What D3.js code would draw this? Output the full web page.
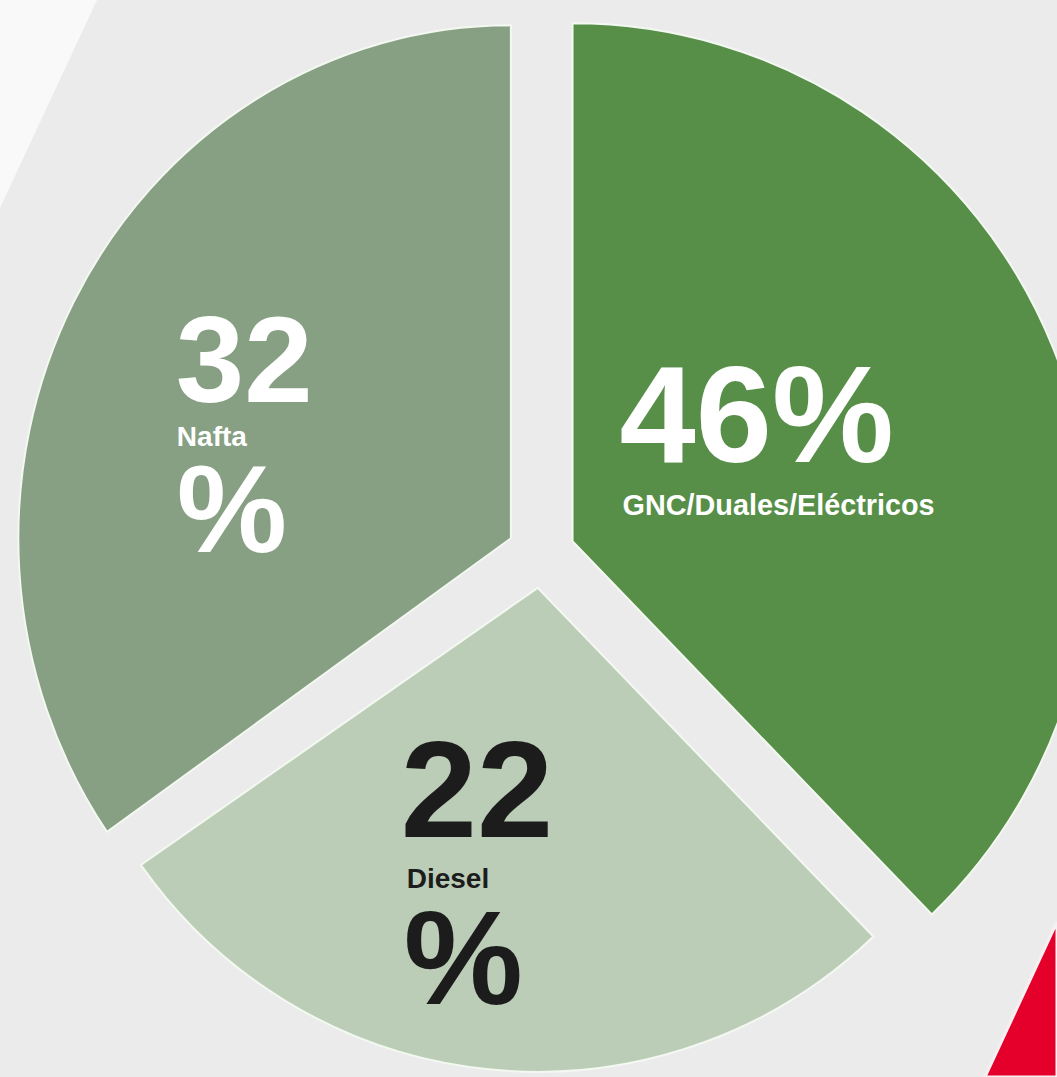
<!DOCTYPE html>
<html lang="es">
  <head>
    <meta charset="utf-8">
    <title>Parque por combustible</title>
    <script src="https://d3js.org/d3.v7.js"></script>
    <style>
      body { margin: 0; background: #ebebeb; }
      svg { display: block; }
    </style>
  </head>

  <body>
    <svg></svg>

  <script>

// data

  const categories = ["GNC/Duales/Eléctricos", "Diesel", "Nafta"];
  const percentages = [46, 22, 32];
  // the drawn slices are not proportional to the labels: angular share as seen
  const sliceShare = [37.8, 27.5, 34.7];

// look

  const w = 1057;
  const h = 1077;
  const center = {x: 541, y: 554};
  const explode = 34;
  const colors = ["#578f48", "#bbcdb7", "#87a083"];
  const textColors = ["#ffffff", "#1c1c1c", "#ffffff"];
  const outerRadius = [518, 484, 513];
  const squeezeX = [1, 1, 0.96];

  const slices = categories.map((c, i) => ({
    category: c,
    pct: percentages[i],
    share: sliceShare[i]
  }));

  const svg = d3.select("svg")
      .attr("width", w)
      .attr("height", h);

// background

  svg.append("rect")
      .attr("width", w)
      .attr("height", h)
      .attr("fill", "#ebebeb");

  svg.append("path")
      .attr("d", "M0,0 L97,0 L0,208 Z")
      .attr("fill", "#f9f9f9");

  svg.append("path")
      .attr("d", `M${w},922 L${w},${h} L985,${h} Z`)
      .attr("fill", "#e4002b")
      .attr("stroke", "#f7f0f2")
      .attr("stroke-width", 3);

// pie

  const pie = d3.pie()
      .sort(null)
      .value(d => d.share)
      .startAngle(0)
      .endAngle(2 * Math.PI);

  const arcs = pie(slices);

  const offset = d => {
    const a = (d.startAngle + d.endAngle) / 2;
    return [center.x + explode * Math.sin(a), center.y - explode * Math.cos(a)];
  };

  const groups = svg.append("g")
      .attr("id", "pie")
    .selectAll("g")
    .data(arcs)
    .enter().append("g")
      .attr("transform", d => `translate(${offset(d)[0]}, ${offset(d)[1]})`);

  groups.append("path")
      .attr("d", (d, i) => d3.arc().innerRadius(0).outerRadius(outerRadius[i])(d))
      .attr("transform", (d, i) => `scale(${squeezeX[i]}, 1)`)
      .attr("fill", (d, i) => colors[i])
      .attr("stroke", "#f3f8f1")
      .attr("stroke-width", 2)
      .attr("stroke-linejoin", "miter");

// labels (offsets from each slice's tip)

  const labelLayout = [
    [{text: d => d.data.pct + "%", size: 137, dx: 47, dy: -79},
     {text: d => d.data.category, size: 28.8, dx: 50, dy: -26}],
    [{text: d => d.data.pct, size: 137, dx: -137, dy: 249},
     {text: d => d.data.category, size: 28, dx: -131, dy: 300},
     {text: d => "%", size: 134, dx: -134, dy: 416}],
    [{text: d => d.data.pct, size: 123, dx: -335, dy: -136},
     {text: d => d.data.category, size: 28, dx: -334, dy: -92},
     {text: d => "%", size: 124, dx: -334, dy: 14}]
  ];

  groups.each(function (d, i) {
    const g = d3.select(this);
    labelLayout[i].forEach(l => {
      g.append("text")
          .attr("x", l.dx)
          .attr("y", l.dy)
          .attr("fill", textColors[i])
          .attr("font-family", "'Liberation Sans', Arial, sans-serif")
          .attr("font-weight", "bold")
          .attr("font-size", l.size)
          .text(l.text(d));
    });
  });

    </script>

  </body>

</html>
